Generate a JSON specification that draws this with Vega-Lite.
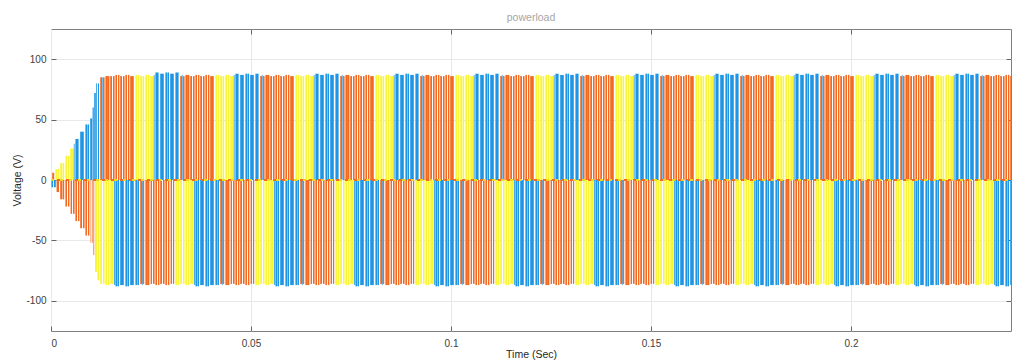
{
"$schema": "https://vega.github.io/schema/vega-lite/v6.json",
"width": 960, "height": 302,
"autosize": {"type": "none"},
"padding": {"left": 51, "top": 29, "right": 8, "bottom": 32},
"background": "white",
"config": {"font": "Liberation Sans", "view": {"stroke": "#808080", "strokeWidth": 1}},
"title": {"text": "powerload", "fontSize": 10.5, "fontWeight": "normal", "color": "#a6a6a6", "offset": 5, "font": "Liberation Sans"},
"resolve": {"axis": {"x": "independent", "y": "independent"}},
"data": {"values": [
{"s":0.0003,"e":0.0008,"p":"b","v":6},
{"s":0.0011,"e":0.0020,"p":"c","v":9},
{"s":0.0023,"e":0.0033,"p":"c","v":14},
{"s":0.0036,"e":0.0046,"p":"c","v":20},
{"s":0.0048,"e":0.0057,"p":"c","v":26},
{"s":0.0061,"e":0.0069,"p":"a","v":34},
{"s":0.0073,"e":0.0082,"p":"a","v":40},
{"s":0.0086,"e":0.0095,"p":"a","v":46},
{"s":0.0098,"e":0.0103,"p":"a","v":51},
{"s":0.0104,"e":0.0107,"p":"a","v":60},
{"s":0.0108,"e":0.0112,"p":"a","v":72},
{"s":0.0113,"e":0.0120,"p":"a","v":80},
{"s":0.0123,"e":0.0134,"p":"b","v":85},
{"s":0.0136,"e":0.0146,"p":"b","v":86},
{"s":0.0148,"e":0.0159,"p":"b","v":86},
{"s":0.0161,"e":0.0171,"p":"b","v":87},
{"s":0.0173,"e":0.0184,"p":"b","v":86},
{"s":0.0186,"e":0.0196,"p":"b","v":87},
{"s":0.0198,"e":0.0207,"p":"b","v":86},
{"s":0.0001,"e":0.0012,"p":"a","v":-6},
{"s":0.0014,"e":0.0020,"p":"b","v":-10},
{"s":0.0023,"e":0.0033,"p":"b","v":-16},
{"s":0.0036,"e":0.0046,"p":"b","v":-22},
{"s":0.0049,"e":0.0059,"p":"b","v":-28},
{"s":0.0061,"e":0.0071,"p":"b","v":-34},
{"s":0.0073,"e":0.0084,"p":"b","v":-40},
{"s":0.0086,"e":0.0096,"p":"b","v":-46},
{"s":0.0099,"e":0.0104,"p":"b","v":-52},
{"s":0.0105,"e":0.0108,"p":"b","v":-62},
{"s":0.0110,"e":0.0115,"p":"c","v":-76},
{"s":0.0116,"e":0.0120,"p":"c","v":-83},
{"s":0.0123,"e":0.0134,"p":"c","v":-86},
{"s":0.0136,"e":0.0146,"p":"c","v":-87},
{"s":0.0148,"e":0.0157,"p":"c","v":-86},
{"s":0.0161,"e":0.0170,"p":"a","v":-88},
{"s":0.0173,"e":0.0182,"p":"a","v":-87},
{"s":0.0186,"e":0.0195,"p":"a","v":-88},
{"s":0.0198,"e":0.0207,"p":"a","v":-87},
{"s":0.0057,"e":0.0059,"p":"a","v":30},
{"s":0.0127,"e":0.0129,"p":"a","v":85},
{"s":0.0140,"e":0.0142,"p":"a","v":86},
{"s":0.0158,"e":0.0160,"p":"a","v":-87},

{"s":0.0211,"e":0.0220,"p":"c","v":87},
{"s":0.0223,"e":0.0233,"p":"c","v":86},
{"s":0.0236,"e":0.0246,"p":"c","v":87},
{"s":0.0248,"e":0.0257,"p":"c","v":86},
{"s":0.0261,"e":0.0269,"p":"a","v":89},
{"s":0.0273,"e":0.0282,"p":"a","v":88},
{"s":0.0286,"e":0.0295,"p":"a","v":89},
{"s":0.0298,"e":0.0307,"p":"a","v":88},
{"s":0.0311,"e":0.0319,"p":"a","v":89},
{"s":0.0323,"e":0.0334,"p":"b","v":86},
{"s":0.0336,"e":0.0346,"p":"b","v":87},
{"s":0.0348,"e":0.0359,"p":"b","v":86},
{"s":0.0361,"e":0.0371,"p":"b","v":87},
{"s":0.0373,"e":0.0384,"p":"b","v":86},
{"s":0.0386,"e":0.0396,"p":"b","v":87},
{"s":0.0398,"e":0.0407,"p":"b","v":86},
{"s":0.0211,"e":0.0220,"p":"a","v":-87},
{"s":0.0223,"e":0.0233,"p":"b","v":-86},
{"s":0.0236,"e":0.0246,"p":"b","v":-87},
{"s":0.0249,"e":0.0259,"p":"b","v":-86},
{"s":0.0261,"e":0.0271,"p":"b","v":-87},
{"s":0.0273,"e":0.0284,"p":"b","v":-86},
{"s":0.0286,"e":0.0296,"p":"b","v":-87},
{"s":0.0299,"e":0.0308,"p":"b","v":-86},
{"s":0.0311,"e":0.0320,"p":"c","v":-87},
{"s":0.0323,"e":0.0334,"p":"c","v":-86},
{"s":0.0336,"e":0.0346,"p":"c","v":-87},
{"s":0.0348,"e":0.0357,"p":"c","v":-86},
{"s":0.0361,"e":0.0370,"p":"a","v":-88},
{"s":0.0373,"e":0.0382,"p":"a","v":-87},
{"s":0.0386,"e":0.0395,"p":"a","v":-88},
{"s":0.0398,"e":0.0407,"p":"a","v":-87},
{"s":0.0257,"e":0.0259,"p":"a","v":87},
{"s":0.0327,"e":0.0329,"p":"a","v":87},
{"s":0.0340,"e":0.0342,"p":"a","v":87},
{"s":0.0227,"e":0.0229,"p":"a","v":-87},
{"s":0.0240,"e":0.0242,"p":"a","v":-87},
{"s":0.0358,"e":0.0360,"p":"a","v":-87},

{"s":0.0411,"e":0.0420,"p":"c","v":87},
{"s":0.0423,"e":0.0433,"p":"c","v":86},
{"s":0.0436,"e":0.0446,"p":"c","v":87},
{"s":0.0448,"e":0.0457,"p":"c","v":86},
{"s":0.0461,"e":0.0469,"p":"a","v":88},
{"s":0.0473,"e":0.0482,"p":"a","v":87},
{"s":0.0486,"e":0.0495,"p":"a","v":88},
{"s":0.0498,"e":0.0507,"p":"a","v":87},
{"s":0.0511,"e":0.0519,"p":"a","v":88},
{"s":0.0523,"e":0.0534,"p":"b","v":86},
{"s":0.0536,"e":0.0546,"p":"b","v":87},
{"s":0.0548,"e":0.0559,"p":"b","v":86},
{"s":0.0561,"e":0.0571,"p":"b","v":87},
{"s":0.0573,"e":0.0584,"p":"b","v":86},
{"s":0.0586,"e":0.0596,"p":"b","v":87},
{"s":0.0598,"e":0.0607,"p":"b","v":86},
{"s":0.0411,"e":0.0420,"p":"a","v":-87},
{"s":0.0423,"e":0.0433,"p":"b","v":-86},
{"s":0.0436,"e":0.0446,"p":"b","v":-87},
{"s":0.0449,"e":0.0459,"p":"b","v":-86},
{"s":0.0461,"e":0.0471,"p":"b","v":-87},
{"s":0.0473,"e":0.0484,"p":"b","v":-86},
{"s":0.0486,"e":0.0496,"p":"b","v":-87},
{"s":0.0499,"e":0.0508,"p":"b","v":-86},
{"s":0.0511,"e":0.0520,"p":"c","v":-87},
{"s":0.0523,"e":0.0534,"p":"c","v":-86},
{"s":0.0536,"e":0.0546,"p":"c","v":-87},
{"s":0.0548,"e":0.0557,"p":"c","v":-86},
{"s":0.0561,"e":0.0570,"p":"a","v":-88},
{"s":0.0573,"e":0.0582,"p":"a","v":-87},
{"s":0.0586,"e":0.0595,"p":"a","v":-88},
{"s":0.0598,"e":0.0607,"p":"a","v":-87},
{"s":0.0457,"e":0.0459,"p":"a","v":87},
{"s":0.0527,"e":0.0529,"p":"a","v":87},
{"s":0.0540,"e":0.0542,"p":"a","v":87},
{"s":0.0427,"e":0.0429,"p":"a","v":-87},
{"s":0.0440,"e":0.0442,"p":"a","v":-87},
{"s":0.0558,"e":0.0560,"p":"a","v":-87},

{"s":0.0611,"e":0.0620,"p":"c","v":87},
{"s":0.0623,"e":0.0633,"p":"c","v":86},
{"s":0.0636,"e":0.0646,"p":"c","v":87},
{"s":0.0648,"e":0.0657,"p":"c","v":86},
{"s":0.0661,"e":0.0669,"p":"a","v":88},
{"s":0.0673,"e":0.0682,"p":"a","v":87},
{"s":0.0686,"e":0.0695,"p":"a","v":88},
{"s":0.0698,"e":0.0707,"p":"a","v":87},
{"s":0.0711,"e":0.0719,"p":"a","v":88},
{"s":0.0723,"e":0.0734,"p":"b","v":86},
{"s":0.0736,"e":0.0746,"p":"b","v":87},
{"s":0.0748,"e":0.0759,"p":"b","v":86},
{"s":0.0761,"e":0.0771,"p":"b","v":87},
{"s":0.0773,"e":0.0784,"p":"b","v":86},
{"s":0.0786,"e":0.0796,"p":"b","v":87},
{"s":0.0798,"e":0.0807,"p":"b","v":86},
{"s":0.0611,"e":0.0620,"p":"a","v":-87},
{"s":0.0623,"e":0.0633,"p":"b","v":-86},
{"s":0.0636,"e":0.0646,"p":"b","v":-87},
{"s":0.0649,"e":0.0659,"p":"b","v":-86},
{"s":0.0661,"e":0.0671,"p":"b","v":-87},
{"s":0.0673,"e":0.0684,"p":"b","v":-86},
{"s":0.0686,"e":0.0696,"p":"b","v":-87},
{"s":0.0699,"e":0.0708,"p":"b","v":-86},
{"s":0.0711,"e":0.0720,"p":"c","v":-87},
{"s":0.0723,"e":0.0734,"p":"c","v":-86},
{"s":0.0736,"e":0.0746,"p":"c","v":-87},
{"s":0.0748,"e":0.0757,"p":"c","v":-86},
{"s":0.0761,"e":0.0770,"p":"a","v":-88},
{"s":0.0773,"e":0.0782,"p":"a","v":-87},
{"s":0.0786,"e":0.0795,"p":"a","v":-88},
{"s":0.0798,"e":0.0807,"p":"a","v":-87},
{"s":0.0657,"e":0.0659,"p":"a","v":87},
{"s":0.0727,"e":0.0729,"p":"a","v":87},
{"s":0.0740,"e":0.0742,"p":"a","v":87},
{"s":0.0627,"e":0.0629,"p":"a","v":-87},
{"s":0.0640,"e":0.0642,"p":"a","v":-87},
{"s":0.0758,"e":0.0760,"p":"a","v":-87},

{"s":0.0811,"e":0.0820,"p":"c","v":87},
{"s":0.0823,"e":0.0833,"p":"c","v":86},
{"s":0.0836,"e":0.0846,"p":"c","v":87},
{"s":0.0848,"e":0.0857,"p":"c","v":86},
{"s":0.0861,"e":0.0869,"p":"a","v":88},
{"s":0.0873,"e":0.0882,"p":"a","v":87},
{"s":0.0886,"e":0.0895,"p":"a","v":88},
{"s":0.0898,"e":0.0907,"p":"a","v":87},
{"s":0.0911,"e":0.0919,"p":"a","v":88},
{"s":0.0923,"e":0.0934,"p":"b","v":86},
{"s":0.0936,"e":0.0946,"p":"b","v":87},
{"s":0.0948,"e":0.0959,"p":"b","v":86},
{"s":0.0961,"e":0.0971,"p":"b","v":87},
{"s":0.0973,"e":0.0984,"p":"b","v":86},
{"s":0.0986,"e":0.0996,"p":"b","v":87},
{"s":0.0998,"e":0.1007,"p":"b","v":86},
{"s":0.0811,"e":0.0820,"p":"a","v":-87},
{"s":0.0823,"e":0.0833,"p":"b","v":-86},
{"s":0.0836,"e":0.0846,"p":"b","v":-87},
{"s":0.0849,"e":0.0859,"p":"b","v":-86},
{"s":0.0861,"e":0.0871,"p":"b","v":-87},
{"s":0.0873,"e":0.0884,"p":"b","v":-86},
{"s":0.0886,"e":0.0896,"p":"b","v":-87},
{"s":0.0899,"e":0.0908,"p":"b","v":-86},
{"s":0.0911,"e":0.0920,"p":"c","v":-87},
{"s":0.0923,"e":0.0934,"p":"c","v":-86},
{"s":0.0936,"e":0.0946,"p":"c","v":-87},
{"s":0.0948,"e":0.0957,"p":"c","v":-86},
{"s":0.0961,"e":0.0970,"p":"a","v":-88},
{"s":0.0973,"e":0.0982,"p":"a","v":-87},
{"s":0.0986,"e":0.0995,"p":"a","v":-88},
{"s":0.0998,"e":0.1007,"p":"a","v":-87},
{"s":0.0857,"e":0.0859,"p":"a","v":87},
{"s":0.0927,"e":0.0929,"p":"a","v":87},
{"s":0.0940,"e":0.0942,"p":"a","v":87},
{"s":0.0827,"e":0.0829,"p":"a","v":-87},
{"s":0.0840,"e":0.0842,"p":"a","v":-87},
{"s":0.0958,"e":0.0960,"p":"a","v":-87},

{"s":0.1011,"e":0.1020,"p":"c","v":87},
{"s":0.1023,"e":0.1033,"p":"c","v":86},
{"s":0.1036,"e":0.1046,"p":"c","v":87},
{"s":0.1048,"e":0.1057,"p":"c","v":86},
{"s":0.1061,"e":0.1069,"p":"a","v":88},
{"s":0.1073,"e":0.1082,"p":"a","v":87},
{"s":0.1086,"e":0.1095,"p":"a","v":88},
{"s":0.1098,"e":0.1107,"p":"a","v":87},
{"s":0.1111,"e":0.1119,"p":"a","v":88},
{"s":0.1123,"e":0.1134,"p":"b","v":86},
{"s":0.1136,"e":0.1146,"p":"b","v":87},
{"s":0.1148,"e":0.1159,"p":"b","v":86},
{"s":0.1161,"e":0.1171,"p":"b","v":87},
{"s":0.1173,"e":0.1184,"p":"b","v":86},
{"s":0.1186,"e":0.1196,"p":"b","v":87},
{"s":0.1198,"e":0.1207,"p":"b","v":86},
{"s":0.1011,"e":0.1020,"p":"a","v":-87},
{"s":0.1023,"e":0.1033,"p":"b","v":-86},
{"s":0.1036,"e":0.1046,"p":"b","v":-87},
{"s":0.1049,"e":0.1059,"p":"b","v":-86},
{"s":0.1061,"e":0.1071,"p":"b","v":-87},
{"s":0.1073,"e":0.1084,"p":"b","v":-86},
{"s":0.1086,"e":0.1096,"p":"b","v":-87},
{"s":0.1099,"e":0.1108,"p":"b","v":-86},
{"s":0.1111,"e":0.1120,"p":"c","v":-87},
{"s":0.1123,"e":0.1134,"p":"c","v":-86},
{"s":0.1136,"e":0.1146,"p":"c","v":-87},
{"s":0.1148,"e":0.1157,"p":"c","v":-86},
{"s":0.1161,"e":0.1170,"p":"a","v":-88},
{"s":0.1173,"e":0.1182,"p":"a","v":-87},
{"s":0.1186,"e":0.1195,"p":"a","v":-88},
{"s":0.1198,"e":0.1207,"p":"a","v":-87},
{"s":0.1057,"e":0.1059,"p":"a","v":87},
{"s":0.1127,"e":0.1129,"p":"a","v":87},
{"s":0.1140,"e":0.1142,"p":"a","v":87},
{"s":0.1027,"e":0.1029,"p":"a","v":-87},
{"s":0.1040,"e":0.1042,"p":"a","v":-87},
{"s":0.1158,"e":0.1160,"p":"a","v":-87},

{"s":0.1211,"e":0.1220,"p":"c","v":87},
{"s":0.1223,"e":0.1233,"p":"c","v":86},
{"s":0.1236,"e":0.1246,"p":"c","v":87},
{"s":0.1248,"e":0.1257,"p":"c","v":86},
{"s":0.1261,"e":0.1269,"p":"a","v":88},
{"s":0.1273,"e":0.1282,"p":"a","v":87},
{"s":0.1286,"e":0.1295,"p":"a","v":88},
{"s":0.1298,"e":0.1307,"p":"a","v":87},
{"s":0.1311,"e":0.1319,"p":"a","v":88},
{"s":0.1323,"e":0.1334,"p":"b","v":86},
{"s":0.1336,"e":0.1346,"p":"b","v":87},
{"s":0.1348,"e":0.1359,"p":"b","v":86},
{"s":0.1361,"e":0.1371,"p":"b","v":87},
{"s":0.1373,"e":0.1384,"p":"b","v":86},
{"s":0.1386,"e":0.1396,"p":"b","v":87},
{"s":0.1398,"e":0.1407,"p":"b","v":86},
{"s":0.1211,"e":0.1220,"p":"a","v":-87},
{"s":0.1223,"e":0.1233,"p":"b","v":-86},
{"s":0.1236,"e":0.1246,"p":"b","v":-87},
{"s":0.1249,"e":0.1259,"p":"b","v":-86},
{"s":0.1261,"e":0.1271,"p":"b","v":-87},
{"s":0.1273,"e":0.1284,"p":"b","v":-86},
{"s":0.1286,"e":0.1296,"p":"b","v":-87},
{"s":0.1299,"e":0.1308,"p":"b","v":-86},
{"s":0.1311,"e":0.1320,"p":"c","v":-87},
{"s":0.1323,"e":0.1334,"p":"c","v":-86},
{"s":0.1336,"e":0.1346,"p":"c","v":-87},
{"s":0.1348,"e":0.1357,"p":"c","v":-86},
{"s":0.1361,"e":0.1370,"p":"a","v":-88},
{"s":0.1373,"e":0.1382,"p":"a","v":-87},
{"s":0.1386,"e":0.1395,"p":"a","v":-88},
{"s":0.1398,"e":0.1407,"p":"a","v":-87},
{"s":0.1257,"e":0.1259,"p":"a","v":87},
{"s":0.1327,"e":0.1329,"p":"a","v":87},
{"s":0.1340,"e":0.1342,"p":"a","v":87},
{"s":0.1227,"e":0.1229,"p":"a","v":-87},
{"s":0.1240,"e":0.1242,"p":"a","v":-87},
{"s":0.1358,"e":0.1360,"p":"a","v":-87},

{"s":0.1411,"e":0.1420,"p":"c","v":87},
{"s":0.1423,"e":0.1433,"p":"c","v":86},
{"s":0.1436,"e":0.1446,"p":"c","v":87},
{"s":0.1448,"e":0.1457,"p":"c","v":86},
{"s":0.1461,"e":0.1469,"p":"a","v":88},
{"s":0.1473,"e":0.1482,"p":"a","v":87},
{"s":0.1486,"e":0.1495,"p":"a","v":88},
{"s":0.1498,"e":0.1507,"p":"a","v":87},
{"s":0.1511,"e":0.1519,"p":"a","v":88},
{"s":0.1523,"e":0.1534,"p":"b","v":86},
{"s":0.1536,"e":0.1546,"p":"b","v":87},
{"s":0.1548,"e":0.1559,"p":"b","v":86},
{"s":0.1561,"e":0.1571,"p":"b","v":87},
{"s":0.1573,"e":0.1584,"p":"b","v":86},
{"s":0.1586,"e":0.1596,"p":"b","v":87},
{"s":0.1598,"e":0.1607,"p":"b","v":86},
{"s":0.1411,"e":0.1420,"p":"a","v":-87},
{"s":0.1423,"e":0.1433,"p":"b","v":-86},
{"s":0.1436,"e":0.1446,"p":"b","v":-87},
{"s":0.1449,"e":0.1459,"p":"b","v":-86},
{"s":0.1461,"e":0.1471,"p":"b","v":-87},
{"s":0.1473,"e":0.1484,"p":"b","v":-86},
{"s":0.1486,"e":0.1496,"p":"b","v":-87},
{"s":0.1499,"e":0.1508,"p":"b","v":-86},
{"s":0.1511,"e":0.1520,"p":"c","v":-87},
{"s":0.1523,"e":0.1534,"p":"c","v":-86},
{"s":0.1536,"e":0.1546,"p":"c","v":-87},
{"s":0.1548,"e":0.1557,"p":"c","v":-86},
{"s":0.1561,"e":0.1570,"p":"a","v":-88},
{"s":0.1573,"e":0.1582,"p":"a","v":-87},
{"s":0.1586,"e":0.1595,"p":"a","v":-88},
{"s":0.1598,"e":0.1607,"p":"a","v":-87},
{"s":0.1457,"e":0.1459,"p":"a","v":87},
{"s":0.1527,"e":0.1529,"p":"a","v":87},
{"s":0.1540,"e":0.1542,"p":"a","v":87},
{"s":0.1427,"e":0.1429,"p":"a","v":-87},
{"s":0.1440,"e":0.1442,"p":"a","v":-87},
{"s":0.1558,"e":0.1560,"p":"a","v":-87},

{"s":0.1611,"e":0.1620,"p":"c","v":87},
{"s":0.1623,"e":0.1633,"p":"c","v":86},
{"s":0.1636,"e":0.1646,"p":"c","v":87},
{"s":0.1648,"e":0.1657,"p":"c","v":86},
{"s":0.1661,"e":0.1669,"p":"a","v":88},
{"s":0.1673,"e":0.1682,"p":"a","v":87},
{"s":0.1686,"e":0.1695,"p":"a","v":88},
{"s":0.1698,"e":0.1707,"p":"a","v":87},
{"s":0.1711,"e":0.1719,"p":"a","v":88},
{"s":0.1723,"e":0.1734,"p":"b","v":86},
{"s":0.1736,"e":0.1746,"p":"b","v":87},
{"s":0.1748,"e":0.1759,"p":"b","v":86},
{"s":0.1761,"e":0.1771,"p":"b","v":87},
{"s":0.1773,"e":0.1784,"p":"b","v":86},
{"s":0.1786,"e":0.1796,"p":"b","v":87},
{"s":0.1798,"e":0.1807,"p":"b","v":86},
{"s":0.1611,"e":0.1620,"p":"a","v":-87},
{"s":0.1623,"e":0.1633,"p":"b","v":-86},
{"s":0.1636,"e":0.1646,"p":"b","v":-87},
{"s":0.1649,"e":0.1659,"p":"b","v":-86},
{"s":0.1661,"e":0.1671,"p":"b","v":-87},
{"s":0.1673,"e":0.1684,"p":"b","v":-86},
{"s":0.1686,"e":0.1696,"p":"b","v":-87},
{"s":0.1699,"e":0.1708,"p":"b","v":-86},
{"s":0.1711,"e":0.1720,"p":"c","v":-87},
{"s":0.1723,"e":0.1734,"p":"c","v":-86},
{"s":0.1736,"e":0.1746,"p":"c","v":-87},
{"s":0.1748,"e":0.1757,"p":"c","v":-86},
{"s":0.1761,"e":0.1770,"p":"a","v":-88},
{"s":0.1773,"e":0.1782,"p":"a","v":-87},
{"s":0.1786,"e":0.1795,"p":"a","v":-88},
{"s":0.1798,"e":0.1807,"p":"a","v":-87},
{"s":0.1657,"e":0.1659,"p":"a","v":87},
{"s":0.1727,"e":0.1729,"p":"a","v":87},
{"s":0.1740,"e":0.1742,"p":"a","v":87},
{"s":0.1627,"e":0.1629,"p":"a","v":-87},
{"s":0.1640,"e":0.1642,"p":"a","v":-87},
{"s":0.1758,"e":0.1760,"p":"a","v":-87},

{"s":0.1811,"e":0.1820,"p":"c","v":87},
{"s":0.1823,"e":0.1833,"p":"c","v":86},
{"s":0.1836,"e":0.1846,"p":"c","v":87},
{"s":0.1848,"e":0.1857,"p":"c","v":86},
{"s":0.1861,"e":0.1869,"p":"a","v":88},
{"s":0.1873,"e":0.1882,"p":"a","v":87},
{"s":0.1886,"e":0.1895,"p":"a","v":88},
{"s":0.1898,"e":0.1907,"p":"a","v":87},
{"s":0.1911,"e":0.1919,"p":"a","v":88},
{"s":0.1923,"e":0.1934,"p":"b","v":86},
{"s":0.1936,"e":0.1946,"p":"b","v":87},
{"s":0.1948,"e":0.1959,"p":"b","v":86},
{"s":0.1961,"e":0.1971,"p":"b","v":87},
{"s":0.1973,"e":0.1984,"p":"b","v":86},
{"s":0.1986,"e":0.1996,"p":"b","v":87},
{"s":0.1998,"e":0.2007,"p":"b","v":86},
{"s":0.1811,"e":0.1820,"p":"a","v":-87},
{"s":0.1823,"e":0.1833,"p":"b","v":-86},
{"s":0.1836,"e":0.1846,"p":"b","v":-87},
{"s":0.1849,"e":0.1859,"p":"b","v":-86},
{"s":0.1861,"e":0.1871,"p":"b","v":-87},
{"s":0.1873,"e":0.1884,"p":"b","v":-86},
{"s":0.1886,"e":0.1896,"p":"b","v":-87},
{"s":0.1899,"e":0.1908,"p":"b","v":-86},
{"s":0.1911,"e":0.1920,"p":"c","v":-87},
{"s":0.1923,"e":0.1934,"p":"c","v":-86},
{"s":0.1936,"e":0.1946,"p":"c","v":-87},
{"s":0.1948,"e":0.1957,"p":"c","v":-86},
{"s":0.1961,"e":0.1970,"p":"a","v":-88},
{"s":0.1973,"e":0.1982,"p":"a","v":-87},
{"s":0.1986,"e":0.1995,"p":"a","v":-88},
{"s":0.1998,"e":0.2007,"p":"a","v":-87},
{"s":0.1857,"e":0.1859,"p":"a","v":87},
{"s":0.1927,"e":0.1929,"p":"a","v":87},
{"s":0.1940,"e":0.1942,"p":"a","v":87},
{"s":0.1827,"e":0.1829,"p":"a","v":-87},
{"s":0.1840,"e":0.1842,"p":"a","v":-87},
{"s":0.1958,"e":0.1960,"p":"a","v":-87},

{"s":0.2011,"e":0.2020,"p":"c","v":87},
{"s":0.2023,"e":0.2033,"p":"c","v":86},
{"s":0.2036,"e":0.2046,"p":"c","v":87},
{"s":0.2048,"e":0.2057,"p":"c","v":86},
{"s":0.2061,"e":0.2069,"p":"a","v":88},
{"s":0.2073,"e":0.2082,"p":"a","v":87},
{"s":0.2086,"e":0.2095,"p":"a","v":88},
{"s":0.2098,"e":0.2107,"p":"a","v":87},
{"s":0.2111,"e":0.2119,"p":"a","v":88},
{"s":0.2123,"e":0.2134,"p":"b","v":86},
{"s":0.2136,"e":0.2146,"p":"b","v":87},
{"s":0.2148,"e":0.2159,"p":"b","v":86},
{"s":0.2161,"e":0.2171,"p":"b","v":87},
{"s":0.2173,"e":0.2184,"p":"b","v":86},
{"s":0.2186,"e":0.2196,"p":"b","v":87},
{"s":0.2198,"e":0.2207,"p":"b","v":86},
{"s":0.2011,"e":0.2020,"p":"a","v":-87},
{"s":0.2023,"e":0.2033,"p":"b","v":-86},
{"s":0.2036,"e":0.2046,"p":"b","v":-87},
{"s":0.2049,"e":0.2059,"p":"b","v":-86},
{"s":0.2061,"e":0.2071,"p":"b","v":-87},
{"s":0.2073,"e":0.2084,"p":"b","v":-86},
{"s":0.2086,"e":0.2096,"p":"b","v":-87},
{"s":0.2099,"e":0.2108,"p":"b","v":-86},
{"s":0.2111,"e":0.2120,"p":"c","v":-87},
{"s":0.2123,"e":0.2134,"p":"c","v":-86},
{"s":0.2136,"e":0.2146,"p":"c","v":-87},
{"s":0.2148,"e":0.2157,"p":"c","v":-86},
{"s":0.2161,"e":0.2170,"p":"a","v":-88},
{"s":0.2173,"e":0.2182,"p":"a","v":-87},
{"s":0.2186,"e":0.2195,"p":"a","v":-88},
{"s":0.2198,"e":0.2207,"p":"a","v":-87},
{"s":0.2057,"e":0.2059,"p":"a","v":87},
{"s":0.2127,"e":0.2129,"p":"a","v":87},
{"s":0.2140,"e":0.2142,"p":"a","v":87},
{"s":0.2027,"e":0.2029,"p":"a","v":-87},
{"s":0.2040,"e":0.2042,"p":"a","v":-87},
{"s":0.2158,"e":0.2160,"p":"a","v":-87},

{"s":0.2211,"e":0.2220,"p":"c","v":87},
{"s":0.2223,"e":0.2233,"p":"c","v":86},
{"s":0.2236,"e":0.2246,"p":"c","v":87},
{"s":0.2248,"e":0.2257,"p":"c","v":86},
{"s":0.2261,"e":0.2269,"p":"a","v":88},
{"s":0.2273,"e":0.2282,"p":"a","v":87},
{"s":0.2286,"e":0.2295,"p":"a","v":88},
{"s":0.2298,"e":0.2307,"p":"a","v":87},
{"s":0.2311,"e":0.2319,"p":"a","v":88},
{"s":0.2323,"e":0.2334,"p":"b","v":86},
{"s":0.2336,"e":0.2346,"p":"b","v":87},
{"s":0.2348,"e":0.2359,"p":"b","v":86},
{"s":0.2361,"e":0.2371,"p":"b","v":87},
{"s":0.2373,"e":0.2384,"p":"b","v":86},
{"s":0.2386,"e":0.2396,"p":"b","v":87},
{"s":0.2398,"e":0.2407,"p":"b","v":86},
{"s":0.2211,"e":0.2220,"p":"a","v":-87},
{"s":0.2223,"e":0.2233,"p":"b","v":-86},
{"s":0.2236,"e":0.2246,"p":"b","v":-87},
{"s":0.2249,"e":0.2259,"p":"b","v":-86},
{"s":0.2261,"e":0.2271,"p":"b","v":-87},
{"s":0.2273,"e":0.2284,"p":"b","v":-86},
{"s":0.2286,"e":0.2296,"p":"b","v":-87},
{"s":0.2299,"e":0.2308,"p":"b","v":-86},
{"s":0.2311,"e":0.2320,"p":"c","v":-87},
{"s":0.2323,"e":0.2334,"p":"c","v":-86},
{"s":0.2336,"e":0.2346,"p":"c","v":-87},
{"s":0.2348,"e":0.2357,"p":"c","v":-86},
{"s":0.2361,"e":0.2370,"p":"a","v":-88},
{"s":0.2373,"e":0.2382,"p":"a","v":-87},
{"s":0.2386,"e":0.2395,"p":"a","v":-88},
{"s":0.2398,"e":0.2407,"p":"a","v":-87},
{"s":0.2257,"e":0.2259,"p":"a","v":87},
{"s":0.2327,"e":0.2329,"p":"a","v":87},
{"s":0.2340,"e":0.2342,"p":"a","v":87},
{"s":0.2227,"e":0.2229,"p":"a","v":-87},
{"s":0.2240,"e":0.2242,"p":"a","v":-87},
{"s":0.2358,"e":0.2360,"p":"a","v":-87}
]},
"layer": [
{"transform": [{"filter": {"field": "p", "equal": "b"}}],
 "mark": {"type": "rect", "clip": true, "fill": {"gradient": "linear", "x1": 0, "y1": 0, "x2": 1, "y2": 0, "stops": [{"offset": 0, "color": "#F26A21"}, {"offset": 0.38, "color": "#F26A21"}, {"offset": 0.47, "color": "#ffffff"}, {"offset": 0.53, "color": "#ffffff"}, {"offset": 0.62, "color": "#F26A21"}, {"offset": 1, "color": "#F26A21"}]}},
 "encoding": {
 "x": {"field": "s", "type": "quantitative", "scale": {"domain": [0, 0.24], "nice": false, "zero": false},
   "axis": {"values": [0, 0.05, 0.1, 0.15, 0.2], "format": "~g", "title": "Time (Sec)", "grid": true, "gridColor": "#e8e8e8", "domain": false, "tickSize": -5, "tickColor": "#666666", "labelPadding": 12, "labelFontSize": 10, "labelColor": "#404040", "titleFontSize": 10.5, "titleFontWeight": "normal", "titleColor": "#262626", "titlePadding": 1}},
 "x2": {"field": "e"},
 "y": {"field": "v", "type": "quantitative", "scale": {"domain": [-125, 125], "nice": false},
   "axis": {"values": [-100, -50, 0, 50, 100], "labelExpr": "'' + datum.value", "title": "Voltage (V)", "grid": true, "gridColor": "#e8e8e8", "domain": false, "tickSize": -5, "tickColor": "#666666", "labelPadding": 10, "labelFontSize": 10, "labelColor": "#404040", "titleFontSize": 10.5, "titleFontWeight": "normal", "titleColor": "#262626", "titlePadding": 3}},
 "y2": {"datum": 0}
}},
{"transform": [{"filter": {"field": "p", "equal": "c"}}],
 "mark": {"type": "rect", "clip": true, "fill": {"gradient": "linear", "x1": 0, "y1": 0, "x2": 1, "y2": 0, "stops": [{"offset": 0, "color": "#F9F536"}, {"offset": 0.38, "color": "#F9F536"}, {"offset": 0.47, "color": "#ffffff"}, {"offset": 0.53, "color": "#ffffff"}, {"offset": 0.62, "color": "#F9F536"}, {"offset": 1, "color": "#F9F536"}]}},
 "encoding": {
 "x": {"field": "s", "type": "quantitative", "scale": {"domain": [0, 0.24], "nice": false, "zero": false}, "axis": null},
 "x2": {"field": "e"},
 "y": {"field": "v", "type": "quantitative", "scale": {"domain": [-125, 125], "nice": false}, "axis": null},
 "y2": {"datum": 0}
}},
{"transform": [{"filter": {"field": "p", "equal": "a"}}],
 "mark": {"type": "rect", "clip": true, "fill": {"gradient": "linear", "x1": 0, "y1": 0, "x2": 1, "y2": 0, "stops": [{"offset": 0, "color": "#1E96E3"}, {"offset": 0.38, "color": "#1E96E3"}, {"offset": 0.47, "color": "#ffffff"}, {"offset": 0.53, "color": "#ffffff"}, {"offset": 0.62, "color": "#1E96E3"}, {"offset": 1, "color": "#1E96E3"}]}},
 "encoding": {
 "x": {"field": "s", "type": "quantitative", "scale": {"domain": [0, 0.24], "nice": false, "zero": false}, "axis": null},
 "x2": {"field": "e"},
 "y": {"field": "v", "type": "quantitative", "scale": {"domain": [-125, 125], "nice": false}, "axis": null},
 "y2": {"datum": 0}
}},
{"data": {"values": [{}]},
 "mark": {"type": "rule", "color": "#1E96E3", "strokeWidth": 2, "strokeDash": [3, 6]},
 "encoding": {
  "x": {"datum": 0, "type": "quantitative", "axis": {"orient": "top", "values": [0.05, 0.1, 0.15, 0.2], "labels": false, "title": null, "grid": false, "domain": false, "tickSize": -5, "tickColor": "#666666"}},
  "x2": {"datum": 0.24},
  "y": {"datum": 0, "type": "quantitative", "axis": {"orient": "right", "values": [-100, -50, 0, 50, 100], "labels": false, "title": null, "grid": false, "domain": false, "tickSize": -5, "tickColor": "#666666"}}
 }},
{"data": {"values": [{}]},
 "mark": {"type": "rule", "color": "#F26A21", "strokeWidth": 2, "strokeDash": [3, 6], "strokeDashOffset": 3},
 "encoding": {"y": {"datum": 0, "type": "quantitative", "axis": null}}},
{"data": {"values": [{}]},
 "mark": {"type": "rule", "color": "#E8D820", "strokeWidth": 2, "strokeDash": [3, 6], "strokeDashOffset": 6},
 "encoding": {"y": {"datum": 0, "type": "quantitative", "axis": null}}}
]
}
